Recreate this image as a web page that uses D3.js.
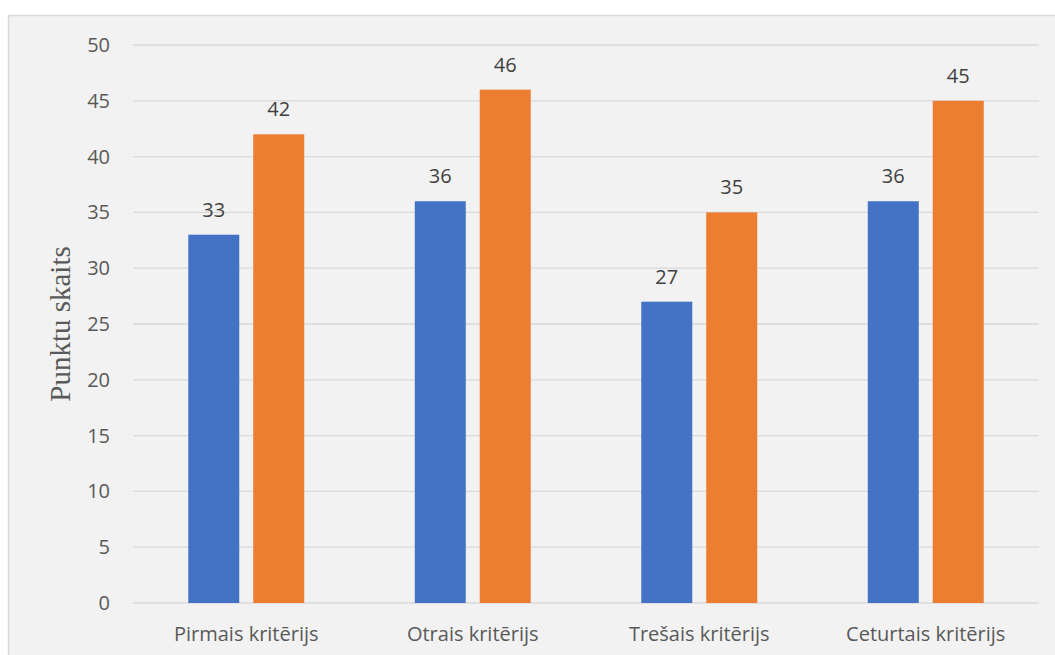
<!DOCTYPE html>
<html>
<head>
<meta charset="utf-8">
<script src="https://cdn.jsdelivr.net/npm/d3@7"></script>
<style>
	body { margin: 0; background: #fff; }
</style>
</head>
<body>
<div id="chart-area"></div>
<script>
const categories = ["Pirmais kritērijs", "Otrais kritērijs", "Trešais kritērijs", "Ceturtais kritērijs"];
const seriesNames = ["Sērija 1", "Sērija 2"];
const series1 = [33, 36, 27, 36];
const series2 = [42, 46, 35, 45];
const yTicks = [0, 5, 10, 15, 20, 25, 30, 35, 40, 45, 50];
const colors = ["#4472C4", "#ED7D31"];

const W = 1055, H = 655;
var margin = { top: 45, right: 16, bottom: 52, left: 133 };
var width = W - margin.left - margin.right,
	height = H - margin.top - margin.bottom;

var svg = d3.select("#chart-area")
	.append("svg")
		.attr("width", W)
		.attr("height", H);

// chart frame
svg.append("rect")
	.attr("x", 8.5)
	.attr("y", 15.5)
	.attr("width", W)
	.attr("height", H)
	.attr("fill", "#F2F2F2")
	.attr("stroke", "#D9D9D9")
	.attr("stroke-width", 1.5);

var g = svg.append("g")
	.attr("transform", "translate(" + margin.left + ", " + margin.top + ")");

var data = categories.map((c, i) => ({ cat: c, values: [series1[i], series2[i]] }));

// scales
var x0 = d3.scaleBand()
	.domain(categories)
	.range([0, width])
	.paddingInner(0.488)
	.paddingOuter(0.244);

var x1 = d3.scaleBand()
	.domain([0, 1])
	.range([0, x0.bandwidth()])
	.paddingInner(0.215);

var y = d3.scaleLinear()
	.domain([0, 50])
	.range([height, 0]);

// gridlines
g.selectAll(".grid")
	.data(yTicks)
	.enter()
	.append("line")
		.attr("x1", 0)
		.attr("x2", width)
		.attr("y1", d => y(d))
		.attr("y2", d => y(d))
		.attr("stroke", "#D9D9D9")
		.attr("stroke-width", 1.3);

// y-axis labels
var yAxisCall = d3.axisLeft(y).tickValues(yTicks).tickSize(0).tickPadding(23);
var yAxis = g.append("g").call(yAxisCall);
yAxis.select(".domain").remove();
yAxis.selectAll("text")
	.attr("font-family", "'Open Sans', sans-serif")
	.attr("font-size", "20px")
	.attr("fill", "#595959");

// x-axis labels
var xAxisCall = d3.axisBottom(x0).tickSize(0).tickPadding(24);
var xAxis = g.append("g")
	.attr("transform", "translate(0, " + height + ")")
	.call(xAxisCall);
xAxis.select(".domain").remove();
xAxis.selectAll("text")
	.attr("font-family", "'Open Sans', sans-serif")
	.attr("font-size", "20px")
	.attr("fill", "#595959");

// bars
var groups = g.selectAll(".cat")
	.data(data)
	.enter()
	.append("g")
		.attr("transform", d => "translate(" + x0(d.cat) + ",0)");

groups.selectAll("rect")
	.data(d => d.values.map((v, i) => ({ i: i, v: v })))
	.enter()
	.append("rect")
		.attr("x", d => x1(d.i))
		.attr("y", d => y(d.v))
		.attr("width", x1.bandwidth())
		.attr("height", d => height - y(d.v))
		.attr("fill", d => colors[d.i]);

// data labels
groups.selectAll(".lbl")
	.data(d => d.values.map((v, i) => ({ i: i, v: v })))
	.enter()
	.append("text")
		.attr("x", d => x1(d.i) + x1.bandwidth() / 2)
		.attr("y", d => y(d.v) - 18)
		.attr("text-anchor", "middle")
		.attr("font-family", "'Open Sans', sans-serif")
		.attr("font-size", "20px")
		.attr("fill", "#404040")
		.text(d => d.v);

// y-label
svg.append("text")
	.attr("transform", "translate(70, 324) rotate(-90)")
	.attr("text-anchor", "middle")
	.attr("font-family", "'Liberation Serif', 'Times New Roman', serif")
	.attr("font-size", "29px")
	.attr("fill", "#595959")
	.text("Punktu skaits");
</script>
</body>
</html>
